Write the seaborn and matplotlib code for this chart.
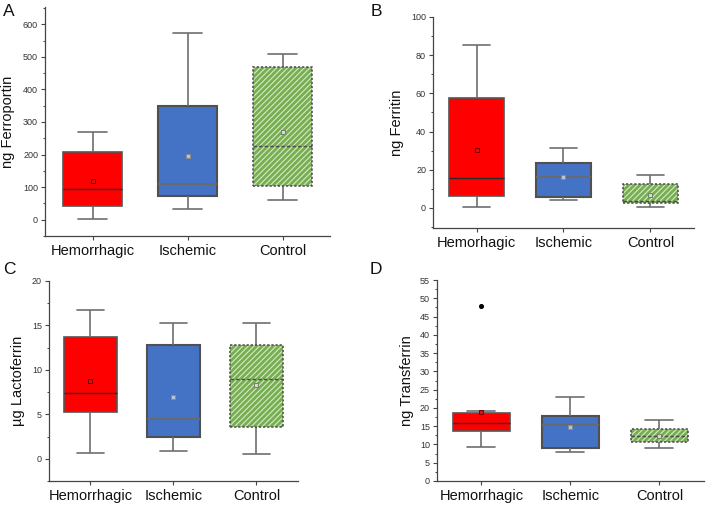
import pandas as pd
import seaborn as sns
import matplotlib.pyplot as plt
from matplotlib.patches import PathPatch
from matplotlib.ticker import MultipleLocator

groups = ["Hemorrhagic", "Ischemic", "Control"]
groups_b = ["Hemorhagic", "Ischemic", "Control"]

# five-number summaries: min, q1, median, q3, max
ferroportin = [[3, 43, 95, 209, 268], [33, 72, 110, 350, 572], [60, 105, 225, 468, 510]]
ferroportin_mean = [120, 197, 268]

ferritin = [[0.5, 6.3, 15.8, 57.7, 85.3], [3.9, 5.8, 16.0, 23.7, 31.4], [0.4, 2.6, 3.5, 12.3, 17.4]]
ferritin_mean = [30.5, 16.0, 7.0]

lactoferrin = [[0.6, 5.3, 7.45, 13.7, 16.75], [0.9, 2.4, 4.5, 12.8, 15.3], [0.5, 3.6, 9.0, 12.8, 15.3]]
lactoferrin_mean = [8.8, 6.9, 8.3]

transferrin = [[9.4, 13.8, 16.0, 18.5, 19.2], [8.0, 9.0, 15.4, 17.9, 23.0], [9.0, 10.8, 12.3, 14.2, 16.7]]
transferrin_mean = [19.0, 14.7, 12.2]
transferrin_outlier = [47.9]

box_colors = ["#FF0000", "#4472C4", "#78AE52"]
mean_face = ["#e01010", "#b9c3d6", "#cfe0c0"]
mean_edge = ["#7a0000", "#8a8a8a", "#7a7a7a"]
gray = "#6e6e6e"

sns.set_theme(style="ticks")
plt.rcParams["font.family"] = ["Liberation Sans", "DejaVu Sans"]
plt.rcParams["hatch.linewidth"] = 0.8

fig = plt.figure(figsize=(7.08, 5.07), dpi=100)


def panel(rect, letter, letter_xy, labels, stats, means, ylabel, ylim, major, minor, label_x, outliers=None):
    ax = fig.add_axes(rect)
    rows = [(labels[i], v) for i in range(3) for v in stats[i]]
    df = pd.DataFrame(rows, columns=["group", "value"])
    sns.boxplot(data=df, x="group", y="value", hue="group", palette=box_colors, legend=False,
                saturation=1, whis=(0, 100), width=0.63, linewidth=1.2, linecolor=gray, ax=ax)

    for i, c in enumerate(ax.containers):
        box = c.boxes[0]
        for w in c.whiskers + c.caps:
            w.set_color(gray)
            w.set_linewidth(1.2)
        med = c.medians[0]
        if i == 0:
            box.set_edgecolor("#555555")
            med.set_color("#2a2a2a")
            med.set_linewidth(1.0)
        elif i == 1:
            box.set_edgecolor("#505050")
            box.set_linewidth(1.5)
            med.set_color("#6a6a6a")
            med.set_linewidth(1.4)
        else:
            box.set_edgecolor("none")
            z = box.get_zorder()
            ax.add_patch(PathPatch(box.get_path(), facecolor="none", edgecolor="#d4eac4",
                                   hatch="//////", linewidth=0, zorder=z + 0.02))
            ax.add_patch(PathPatch(box.get_path(), facecolor="none", edgecolor="#4a4a4a",
                                   linestyle=(0, (1.5, 1.2)), linewidth=1.1, zorder=z + 0.04))
            med.set_color("#4a4a4a")
            med.set_linestyle((0, (2.5, 1.5)))
            med.set_linewidth(1.0)

    for i in range(3):
        ax.scatter([i], [means[i]], marker="s", s=10, facecolor=mean_face[i],
                   edgecolor=mean_edge[i], linewidth=0.7, zorder=5)
    if outliers:
        ax.scatter([0] * len(outliers), outliers, marker="o", s=7, color="black", zorder=5)

    ax.set_xlim(-0.5, 2.5)
    ax.set_ylim(*ylim)
    ax.yaxis.set_major_locator(MultipleLocator(major))
    ax.yaxis.set_minor_locator(MultipleLocator(minor))
    ax.set_xticks([0, 1, 2])
    ax.set_xticklabels(labels, fontsize=10.5, color="#111111")
    ax.tick_params(axis="y", which="major", labelsize=6.5, length=3, width=0.8,
                   colors="#444444", labelcolor="#333333", pad=2)
    ax.tick_params(axis="y", which="minor", length=1.8, width=0.7, colors="#444444")
    ax.tick_params(axis="x", length=3, width=0.8, colors="#444444", labelcolor="#111111", pad=3)
    ax.set_xlabel("")
    ax.set_ylabel(ylabel, fontsize=10.5, color="#111111")
    ax.yaxis.set_label_coords(label_x, 0.5)
    for s in ["left", "bottom"]:
        ax.spines[s].set_color("#444444")
        ax.spines[s].set_linewidth(0.9)
    sns.despine(ax=ax)
    fig.text(letter_xy[0] / 708, 1 - letter_xy[1] / 507, letter, fontsize=12.5,
             ha="center", va="center", color="#111111")
    return ax


panel([0.0636, 0.5345, 0.4025, 0.4517], "A", (9, 11), groups, ferroportin, ferroportin_mean,
      "ng Ferroportin", (-50, 653), 100, 50, -0.105)
panel([0.6116, 0.5503, 0.3686, 0.4162], "B", (376, 11.5), groups_b, ferritin, ferritin_mean,
      "ng Ferritin", (-10.5, 100), 20, 10, -0.111)
panel([0.0692, 0.0513, 0.3517, 0.3945], "C", (9, 269), groups, lactoferrin, lactoferrin_mean,
      "µg Lactoferrin", (-2.5, 20), 5, 2.5, -0.096)
panel([0.6172, 0.0513, 0.3771, 0.3964], "D", (376, 270), groups, transferrin, transferrin_mean,
      "ng Transferrin", (0, 55), 5, 2.5, -0.086, outliers=transferrin_outlier)

fig.savefig("out.png", dpi=100)
